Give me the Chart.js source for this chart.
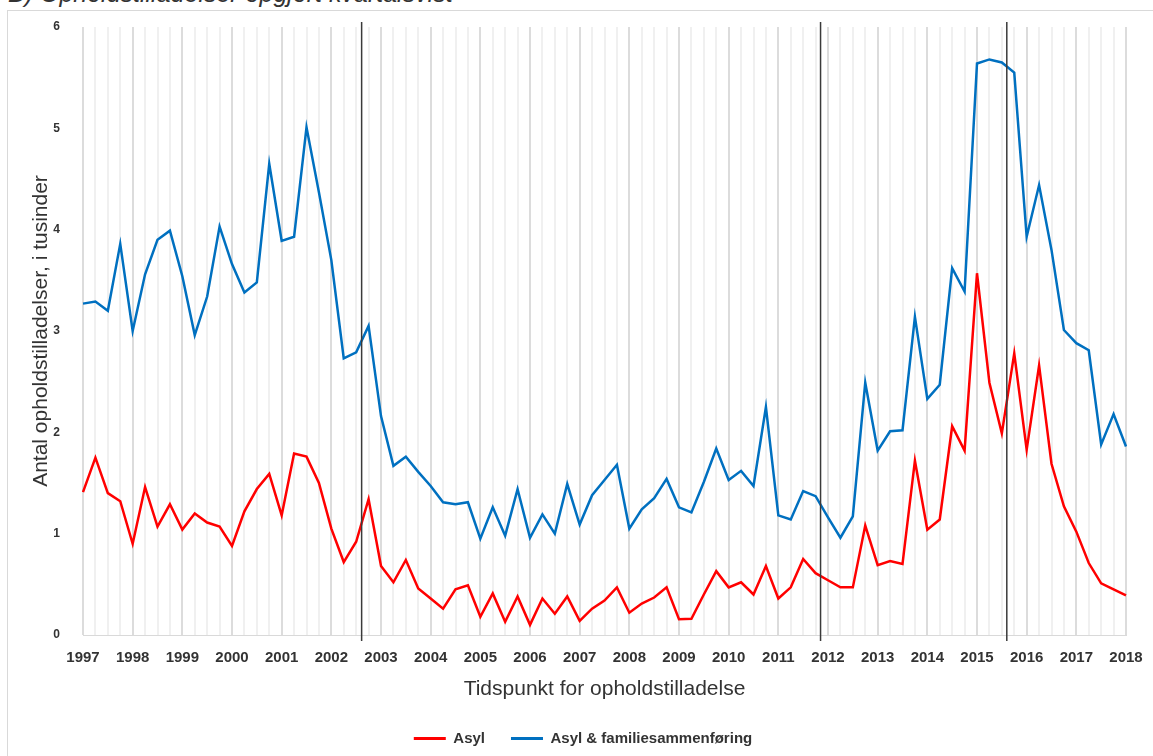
<!DOCTYPE html>
<html><head><meta charset="utf-8">
<script src="https://cdn.jsdelivr.net/npm/chart.js@4.4.1/dist/chart.umd.min.js"></script>
<style>
html,body{margin:0;padding:0;background:#fff;overflow:hidden;}
#wrap{position:relative;width:1153px;height:756px;overflow:hidden;}
#frame{position:absolute;left:7px;top:10px;width:1200px;height:800px;border:1px solid #d9d9d9;box-sizing:border-box;}
#heading{position:absolute;left:8px;top:-19px;font:italic 25px/25px 'Liberation Sans',Arial,sans-serif;color:#333;white-space:nowrap;}
canvas{position:absolute;left:0;top:0;}
</style></head>
<body><div id="wrap"><div id="frame"></div><div id="heading">B) Opholdstilladelser opgjort kvartalsvist</div><canvas id="c" width="1153" height="756"></canvas></div>
<script>
const years = [1997,1998,1999,2000,2001,2002,2003,2004,2005,2006,2007,2008,2009,2010,2011,2012,2013,2014,2015,2016,2017,2018];
const quarterNames = ['K1','K2','K3','K4'];
const asyl = [
 1.41,1.75,1.40,1.32,0.90,1.46,1.07,1.29,1.04,1.20,
 1.11,1.07,0.88,1.22,1.44,1.59,1.18,1.79,1.76,1.50,
 1.05,0.72,0.92,1.34,0.68,0.52,0.74,0.46,0.36,0.26,
 0.45,0.49,0.18,0.41,0.13,0.38,0.10,0.36,0.21,0.38,
 0.14,0.26,0.34,0.47,0.22,0.31,0.37,0.47,0.155,0.16,
 0.40,0.63,0.47,0.52,0.40,0.68,0.36,0.47,0.75,0.61,
 0.54,0.47,0.47,1.08,0.69,0.73,0.70,1.72,1.04,1.14,
 2.06,1.82,3.57,2.49,1.99,2.78,1.83,2.66,1.69,1.27,
 1.02,0.71,0.51,0.45,0.39
];
const asylFamilie = [
 3.27,3.29,3.20,3.86,3.00,3.56,3.90,3.99,3.54,2.96,
 3.34,4.03,3.66,3.38,3.48,4.65,3.89,3.93,5.01,4.37,
 3.70,2.73,2.79,3.05,2.16,1.67,1.76,1.61,1.47,1.31,
 1.29,1.31,0.95,1.26,0.98,1.44,0.96,1.19,1.00,1.49,
 1.09,1.38,1.53,1.68,1.05,1.24,1.35,1.54,1.26,1.21,
 1.51,1.84,1.53,1.62,1.47,2.25,1.18,1.14,1.42,1.37,
 1.16,0.96,1.17,2.49,1.82,2.01,2.02,3.14,2.33,2.47,
 3.62,3.39,5.64,5.68,5.65,5.55,3.93,4.44,3.80,3.01,
 2.88,2.81,1.88,2.18,1.86
];
// positions (in quarter index) of the vertical reference lines
const eventMarkers = [22.44, 59.4, 74.4];

const labels = [];
years.forEach(y => quarterNames.forEach(q => {
  if (y < years[years.length - 1] || q === 'K1') labels.push(y + ' ' + q);
}));

const FONT = "'Liberation Sans', Arial, sans-serif";
Chart.defaults.font.family = FONT;
Chart.defaults.color = '#333';

const markerPlugin = {
  id: 'markers',
  afterDatasetsDraw(chart) {
    const {ctx, chartArea, scales} = chart;
    const x = scales.x;
    ctx.save();
    ctx.strokeStyle = '#3a3a3a';
    ctx.lineWidth = 1.5;
    eventMarkers.forEach(v => {
      const px = x.getPixelForValue(v);
      ctx.beginPath();
      ctx.moveTo(px, chartArea.top - 5);
      ctx.lineTo(px, chartArea.bottom + 6);
      ctx.stroke();
    });
    ctx.restore();
  }
};
const legendShift = {
  id: 'legendShift',
  afterLayout(chart) {
    const l = chart.legend;
    if (l) { l.left += 10; l.right += 10; }
  }
};

new Chart(document.getElementById('c'), {
  type: 'line',
  data: {
    labels: labels,
    datasets: [
      {label: 'Asyl', data: asyl, borderColor: '#ff0000', backgroundColor: '#ff0000', borderWidth: 2.5, pointRadius: 0, tension: 0, fill: false},
      {label: 'Asyl & familiesammenføring', data: asylFamilie, borderColor: '#0070c0', backgroundColor: '#0070c0', borderWidth: 2.5, pointRadius: 0, tension: 0, fill: false}
    ]
  },
  options: {
    responsive: false,
    animation: false,
    layout: {padding: {left: 20, right: 27, top: 27, bottom: 0}},
    plugins: {
      tooltip: {enabled: false},
      legend: {
        position: 'bottom',
        labels: {
          boxWidth: 32, boxHeight: 3, padding: 26,
          font: {size: 15, weight: 'bold'}, color: '#333',
          generateLabels(chart) {
            const items = Chart.defaults.plugins.legend.labels.generateLabels(chart);
            items.forEach(i => { i.lineWidth = 0; i.fillStyle = i.strokeStyle; });
            return items;
          }
        }
      }
    },
    scales: {
      x: {
        type: 'category',
        offset: false,
        grid: {
          offset: false,
          drawTicks: true,
          tickLength: 11,
          tickColor: 'rgba(0,0,0,0)',
          lineWidth: 2,
          color: c => (c.index % 4 === 0) ? '#dcdcdc' : '#f0f0f0'
        },
        border: {display: true, color: '#d9d9d9', width: 1},
        ticks: {
          autoSkip: false, maxRotation: 0, minRotation: 0, padding: 3,
          font: {size: 15, weight: 'bold'}, color: '#333',
          callback: (v, i) => labels[i].endsWith('K1') ? labels[i].slice(0, 4) : ''
        },
        title: {display: true, text: 'Tidspunkt for opholdstilladelse', font: {size: 21}, color: '#333', padding: {top: 0, bottom: 3}},
        afterFit(s) { s.height = 70; }
      },
      y: {
        min: 0, max: 6,
        ticks: {stepSize: 1, padding: 3, font: {size: 12, weight: 'bold'}, color: '#333'},
        grid: {display: false, drawTicks: true, tickLength: 20},
        border: {display: false},
        title: {display: true, text: 'Antal opholdstilladelser, i tusinder', font: {size: 21}, color: '#333', padding: {top: 9, bottom: 0}},
        afterFit(s) { s.width = 63; }
      }
    }
  },
  plugins: [markerPlugin, legendShift]
});
</script>
</body></html>
